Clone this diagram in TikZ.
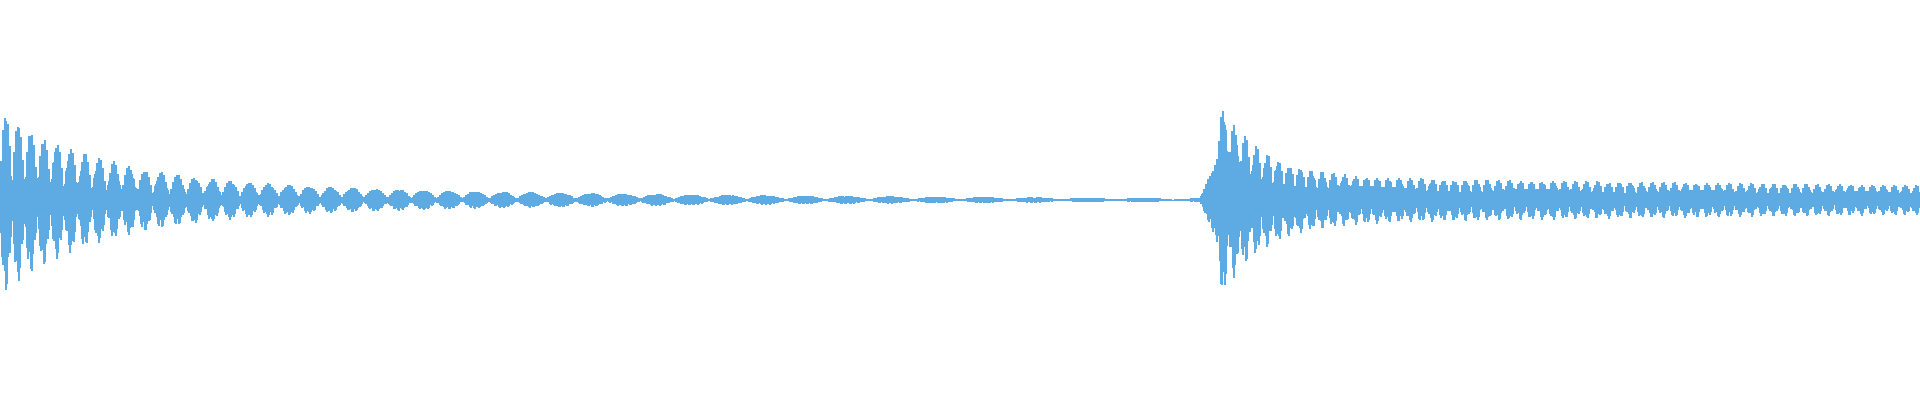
\documentclass[tikz,border=0pt]{standalone}
\usetikzlibrary{calc}
\definecolor{wave}{RGB}{93,171,226}

\begin{document}
\begin{tikzpicture}[x=0.01cm,y=0.01cm]
	\def \width{1920}
	\def \height{400}
	\def \midline{200}
	\def \onset{1218}

	\tikzstyle{sample}=[draw=wave,line width=0.45pt]
	\useasboundingbox (0,0) rectangle (\width,\height);

	% first strike, slow decay
	\foreach \x in {0,...,1200}{
		\pgfmathsetmacro{\amp}{(75*exp(-\x/90)+22*exp(-\x/500))*(0.2+0.8*abs(sin(\x/(12+\x/80)*180)))}
		\pgfmathsetmacro{\lo}{\midline-\amp*(0.55+0.45*abs(sin(mod(\x,97)*137.5)))}
		\pgfmathsetmacro{\hi}{\midline+\amp*(0.55+0.45*abs(sin(mod(\x,89)*97.3)))}
		\draw[sample] (\x,\lo) -- (\x,\hi);
	}

	% second strike, sustained tone
	\foreach \x in {1201,...,1919}{
		\pgfmathsetmacro{\t}{max(\x-\onset,0)}
		\pgfmathsetmacro{\rise}{min(1,0.05+max(\x-1200,0)/18)}
		\pgfmathsetmacro{\amp}{\rise*(80*exp(-\t/40)+25*exp(-\t/1400))*(0.4+0.6*abs(sin(\t/11*180)))}
		\pgfmathsetmacro{\lo}{\midline-\amp*(0.55+0.45*abs(sin(mod(\x,97)*137.5)))}
		\pgfmathsetmacro{\hi}{\midline+\amp*(0.55+0.45*abs(sin(mod(\x,89)*97.3)))}
		\draw[sample] (\x,\lo) -- (\x,\hi);
	}
\end{tikzpicture}
\end{document}
